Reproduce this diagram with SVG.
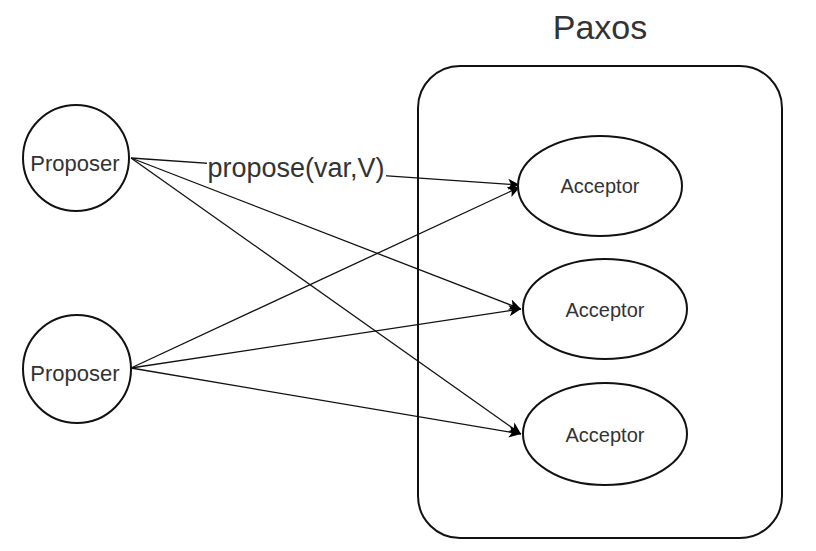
<svg xmlns="http://www.w3.org/2000/svg" width="816" height="551" viewBox="0 0 816 551">
<defs>
<marker id="arr" markerWidth="13" markerHeight="13" refX="12" refY="6.5" orient="auto" markerUnits="userSpaceOnUse">
<path d="M0,1 L12,6.5 L0,12 L3,6.5 Z" fill="#000"/>
</marker>
<style>
.shape{fill:#fff;stroke:#111;stroke-width:2}
.edge{fill:none;stroke:#111;stroke-width:1.3;marker-end:url(#arr)}
.t{font-family:"Liberation Sans",Arial,sans-serif;fill:#333;text-anchor:middle}
</style>
</defs>
<rect width="816" height="551" fill="#fff"/>
<g id="paxos">
<rect class="shape" x="418" y="66" width="364" height="472" rx="42" ry="42"/>
<text class="t" x="600" y="39" font-size="34" fill="#111">Paxos</text>
</g>
<g id="connectors">
<line class="edge" x1="131" y1="158" x2="520" y2="185"/>
<line class="edge" x1="131" y1="158" x2="521" y2="309"/>
<line class="edge" x1="131" y1="158" x2="521" y2="434"/>
<line class="edge" x1="131" y1="368" x2="520" y2="187"/>
<line class="edge" x1="131" y1="368" x2="521" y2="309"/>
<line class="edge" x1="131" y1="368" x2="521" y2="434"/>
<rect x="207" y="152" width="179" height="28" fill="#fff"/>
<text class="t" x="296" y="177" font-size="27">propose(var,V)</text>
</g>
<g id="proposer1">
<circle class="shape" cx="76" cy="158" r="53"/>
<text class="t" x="75" y="171" font-size="22">Proposer</text>
</g>
<g id="proposer2">
<circle class="shape" cx="77" cy="369" r="54"/>
<text class="t" x="75" y="381" font-size="22">Proposer</text>
</g>
<g id="acceptor1">
<ellipse class="shape" cx="600" cy="186" rx="82" ry="50"/>
<text class="t" x="600" y="193" font-size="20">Acceptor</text>
</g>
<g id="acceptor2">
<ellipse class="shape" cx="605" cy="309" rx="82" ry="50"/>
<text class="t" x="605" y="317" font-size="20">Acceptor</text>
</g>
<g id="acceptor3">
<ellipse class="shape" cx="605" cy="434" rx="82" ry="51"/>
<text class="t" x="605" y="442" font-size="20">Acceptor</text>
</g>
</svg>
